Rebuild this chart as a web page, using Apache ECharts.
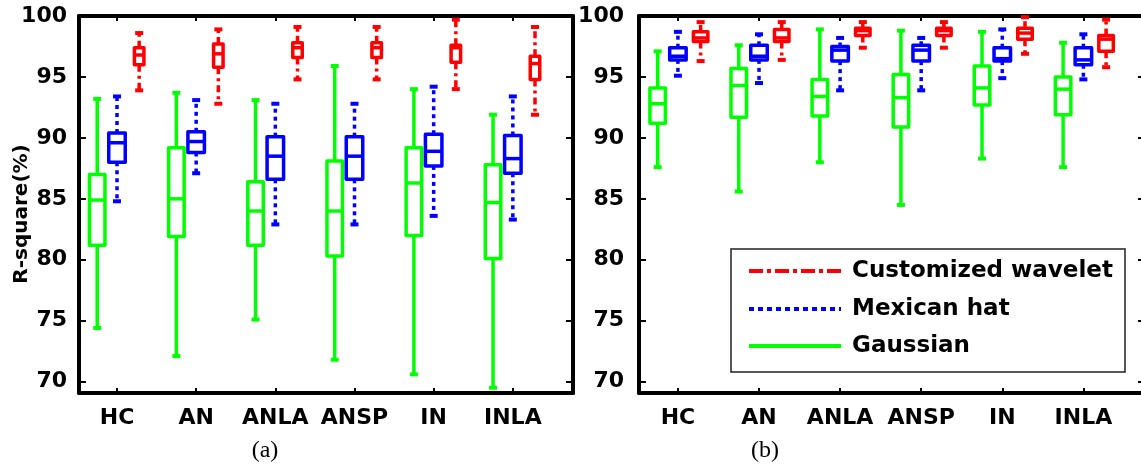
<!DOCTYPE html>
<html>
<head>
<meta charset="utf-8">
<script src="https://cdn.jsdelivr.net/npm/echarts@6/dist/echarts.min.js"></script>
<style>
html,body{margin:0;padding:0;background:#fff;}
#chart{width:1141px;height:467px;}
</style>
</head>
<body>
<div id="chart"></div>
<script>
// ---------- data ----------
const categories = ['HC', 'AN', 'ANLA', 'ANSP', 'IN', 'INLA'];
const yTicks = [70, 75, 80, 85, 90, 95, 100];
const methodNames = ['Customized wavelet', 'Mexican hat', 'Gaussian'];
const panelLabels = ['(a)', '(b)'];
// each row: [lower whisker, Q1, median, Q3, upper whisker]
const gaussianA = [[74.4, 81.2, 84.9, 87.0, 93.2], [72.1, 81.9, 85.0, 89.2, 93.7], [75.1, 81.2, 84.0, 86.4, 93.1], [71.8, 80.3, 84.0, 88.1, 95.9], [70.6, 82.0, 86.3, 89.2, 94.0], [69.5, 80.1, 84.7, 87.8, 91.9]];
const mexicanA = [[84.8, 88.0, 89.6, 90.4, 93.4], [87.1, 88.8, 89.7, 90.5, 93.1], [82.9, 86.6, 88.5, 90.1, 92.8], [82.9, 86.6, 88.5, 90.1, 92.8], [83.6, 87.7, 88.9, 90.3, 94.2], [83.3, 87.1, 88.3, 90.2, 93.4]];
const customA = [[93.9, 96.0, 96.8, 97.4, 98.6], [92.8, 95.8, 96.9, 97.7, 98.9], [94.8, 96.6, 97.4, 97.8, 99.1], [94.8, 96.6, 97.4, 97.8, 99.1], [94.0, 96.2, 97.4, 97.6, 99.7], [91.9, 94.8, 96.1, 96.7, 99.1]];
const gaussianB = [[87.6, 91.2, 92.8, 94.1, 97.1], [85.6, 91.7, 94.3, 95.7, 97.6], [88.0, 91.8, 93.4, 94.8, 98.9], [84.5, 90.9, 93.3, 95.2, 98.8], [88.3, 92.7, 94.1, 95.9, 98.7], [87.6, 91.9, 94.0, 95.0, 97.8]];
const mexicanB = [[95.1, 96.4, 96.7, 97.4, 98.7], [94.5, 96.4, 96.7, 97.6, 98.5], [93.9, 96.3, 97.2, 97.5, 98.2], [93.9, 96.3, 97.2, 97.6, 98.2], [94.9, 96.3, 96.5, 97.4, 98.9], [94.8, 96.0, 96.4, 97.4, 98.5]];
const customB = [[96.3, 97.9, 98.2, 98.7, 99.5], [96.4, 97.9, 98.2, 98.9, 99.5], [97.4, 98.4, 98.8, 99.0, 99.5], [97.4, 98.4, 98.8, 99.0, 99.5], [96.9, 98.1, 98.6, 99.0, 99.9], [95.8, 97.1, 98.1, 98.4, 99.7]];

// ---------- styles ----------
const FONT = '"DejaVu Sans", "Liberation Sans", Arial, sans-serif';
const GREEN = '#00ff00', BLUE = '#0000ff', RED = '#ff0000';
const styles = {
  gaussian: { color: GREEN, dash: null, offset: -0.25, width: [19, 19] },
  mexican: { color: BLUE, dash: [4, 4], offset: 0, width: [20, 20] },
  custom: { color: RED, dash: [7, 4, 3, 4], offset: 0.28, width: [13, 18] }
};
const LW = 3.5;
const CAP = 8;

function makeRender(st, panel) {
  return function (params, api) {
    const x = api.value(0) + st.offset;
    const lo = api.coord([x, api.value(1)]);
    const q1 = api.coord([x, api.value(2)]);
    const md = api.coord([x, api.value(3)]);
    const q3 = api.coord([x, api.value(4)]);
    const hi = api.coord([x, api.value(5)]);
    const cx = lo[0];
    const w = st.width[panel];
    const solid = { stroke: st.color, lineWidth: LW, fill: null, lineJoin: 'round' };
    const dashed = { stroke: st.color, lineWidth: LW, fill: null, lineDash: st.dash, lineCap: 'butt' };
    return {
      type: 'group',
      children: [
        { type: 'line', shape: { x1: cx, y1: q3[1], x2: cx, y2: hi[1] }, style: dashed },
        { type: 'line', shape: { x1: cx, y1: q1[1], x2: cx, y2: lo[1] }, style: dashed },
        { type: 'line', shape: { x1: cx - CAP / 2, y1: hi[1], x2: cx + CAP / 2, y2: hi[1] }, style: { stroke: st.color, lineWidth: LW + 0.5 } },
        { type: 'line', shape: { x1: cx - CAP / 2, y1: lo[1], x2: cx + CAP / 2, y2: lo[1] }, style: { stroke: st.color, lineWidth: LW + 0.5 } },
        { type: 'rect', shape: { x: cx - w / 2 + LW / 2, y: q3[1], width: w - LW, height: q1[1] - q3[1] }, style: { stroke: st.color, lineWidth: LW, fill: '#fff', lineJoin: 'round' } },
        { type: 'line', shape: { x1: cx - w / 2 + LW / 2, y1: md[1], x2: cx + w / 2 - LW / 2, y2: md[1] }, style: solid }
      ]
    };
  };
}

const panels = [
  { g: gaussianA, m: mexicanA, c: customA },
  { g: gaussianB, m: mexicanB, c: customB }
];

const grids = [
  { left: 79, top: 16, width: 494, height: 377 },
  { left: 639, top: 16, width: 506, height: 377 }
];

const xAxes = [], yAxes = [], series = [];
const xCustom = categories.map((c, i) => i + 1);
grids.forEach((g, p) => {
  const axLine = { show: true, onZero: false, lineStyle: { color: '#000', width: 4 } };
  xAxes.push({
    type: 'value', gridIndex: p, position: 'bottom', min: 0.52, max: 6.76,
    axisLine: axLine, splitLine: { show: false },
    axisTick: { show: true, inside: true, length: 5, customValues: xCustom, lineStyle: { color: '#000', width: 2 } },
    axisLabel: { show: true, customValues: xCustom, margin: 14, color: '#000', fontFamily: FONT, fontWeight: 'bold', fontSize: 22,
      formatter: v => categories[Math.round(v) - 1] || '' }
  });
  xAxes.push({
    type: 'value', gridIndex: p, position: 'top', min: 0.52, max: 6.76,
    axisLine: axLine, splitLine: { show: false },
    axisTick: { show: true, inside: true, length: 5, customValues: xCustom, lineStyle: { color: '#000', width: 2 } },
    axisLabel: { show: false }
  });
  yAxes.push({
    type: 'value', gridIndex: p, position: 'left', min: 69.07, max: 100,
    axisLine: axLine, splitLine: { show: false },
    axisTick: { show: true, inside: true, length: 7, customValues: yTicks, lineStyle: { color: '#000', width: 2 } },
    axisLabel: { show: true, customValues: yTicks, margin: p === 0 ? 12 : 15, color: '#000', fontFamily: FONT, fontWeight: 'bold', fontSize: 22 }
  });
  yAxes.push({
    type: 'value', gridIndex: p, position: 'right', min: 69.07, max: 100,
    axisLine: axLine, splitLine: { show: false },
    axisTick: { show: true, inside: true, length: 7, customValues: yTicks, lineStyle: { color: '#000', width: 2 } },
    axisLabel: { show: false }
  });
  const d = panels[p];
  [['gaussian', d.g], ['mexican', d.m], ['custom', d.c]].forEach(([k, rows]) => {
    series.push({
      type: 'custom', xAxisIndex: p * 2, yAxisIndex: p * 2,
      renderItem: makeRender(styles[k], p),
      encode: { x: 0, y: [1, 2, 3, 4, 5] },
      data: rows.map((r, i) => [i + 1].concat(r)),
      silent: true, z: 3
    });
  });
});

// legend (drawn as graphics)
const legendItems = [
  { name: methodNames[0], color: RED, dash: [14, 4, 4, 4] },
  { name: methodNames[1], color: BLUE, dash: [5, 4] },
  { name: methodNames[2], color: GREEN, dash: null }
];
const legendYs = [271, 309, 346];
const graphic = [
  { type: 'rect', shape: { x: 731, y: 249, width: 394, height: 123 }, style: { fill: '#fff', stroke: '#222', lineWidth: 1.5 }, z: 10 },
  { type: 'text', x: 22, y: 214, rotation: Math.PI / 2, style: { text: 'R-square(%)', font: 'bold 20px ' + FONT, fill: '#000', align: 'center', verticalAlign: 'middle' }, z: 10 },
  { type: 'text', x: 265, y: 451, style: { text: panelLabels[0], font: '24px "Liberation Serif", "Times New Roman", serif', fill: '#000', align: 'center', verticalAlign: 'middle' }, z: 10 },
  { type: 'text', x: 765, y: 451, style: { text: panelLabels[1], font: '24px "Liberation Serif", "Times New Roman", serif', fill: '#000', align: 'center', verticalAlign: 'middle' }, z: 10 }
];
legendItems.forEach((it, i) => {
  graphic.push({ type: 'line', shape: { x1: 749, y1: legendYs[i], x2: 841, y2: legendYs[i] }, style: { stroke: it.color, lineWidth: 4, lineDash: it.dash }, z: 11 });
  graphic.push({ type: 'text', x: 852, y: legendYs[i], style: { text: it.name, font: 'bold 23px ' + FONT, fill: '#000', align: 'left', verticalAlign: 'middle' }, z: 11 });
});

const chart = echarts.init(document.getElementById('chart'), null, { renderer: 'canvas' });
chart.setOption({
  animation: false,
  backgroundColor: '#fff',
  grid: grids.map(g => Object.assign({ containLabel: false, outerBoundsMode: 'none' }, g)),
  xAxis: xAxes,
  yAxis: yAxes,
  series: series,
  graphic: graphic
});
</script>
</body>
</html>
